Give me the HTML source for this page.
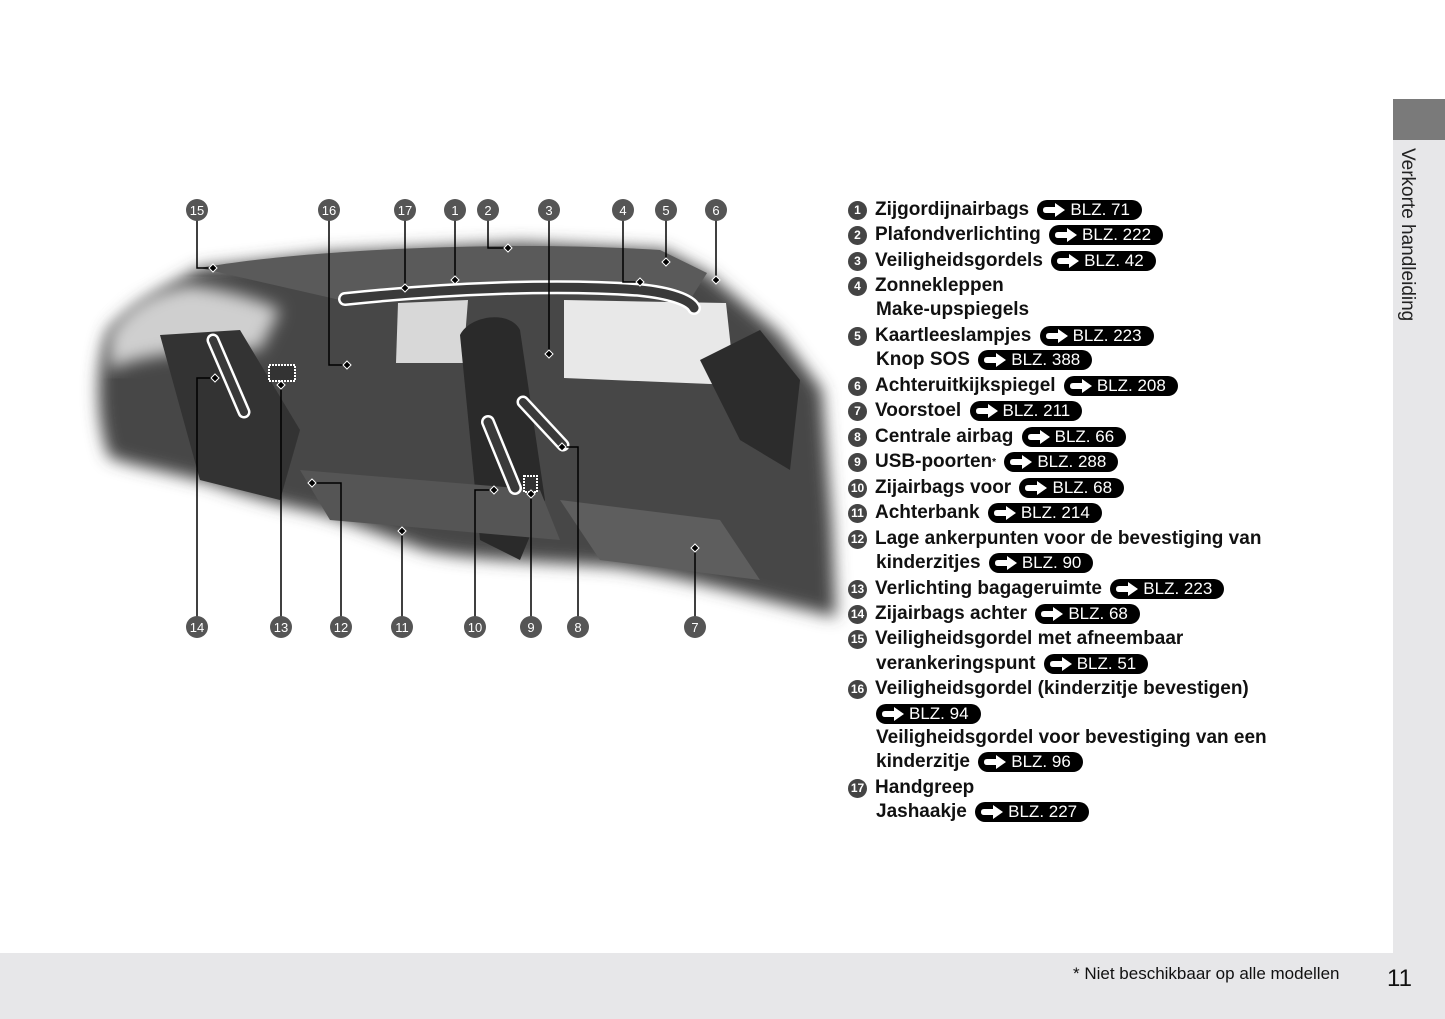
<!DOCTYPE html>
<html><head><meta charset="utf-8"><style>
body{margin:0;width:1445px;height:1019px;background:#fff;position:relative;overflow:hidden;font-family:"Liberation Sans",sans-serif;}
.side{position:absolute;left:1393px;top:140px;width:52px;height:813px;background:#e7e7e9;}
.sidetop{position:absolute;left:1393px;top:99px;width:52px;height:41px;background:#7a7a7a;}
.vt{position:absolute;left:1396px;top:148px;writing-mode:vertical-rl;font-size:19px;color:#222;}
.bot{position:absolute;left:0;top:953px;width:1445px;height:66px;background:#e7e7e9;}
.fn{position:absolute;left:1073px;top:964px;font-size:17px;color:#111;}
.pn{position:absolute;left:1387px;top:965px;font-size:24px;color:#111;}
.it{position:absolute;left:848px;font-size:19px;font-weight:bold;color:#111;white-space:nowrap;line-height:24px;height:24px;}
.n{display:inline-block;width:19px;height:19px;border-radius:50%;background:#444;color:#fff;font-size:12px;text-align:center;line-height:19px;vertical-align:1px;margin-right:8px;}
.b{display:inline-block;background:#000;color:#fff;font-weight:normal;font-size:17px;border-radius:11px;padding:0 12px 0 6px;line-height:20px;margin-left:3px;}
.b svg{vertical-align:-2px;margin-right:1px;}
.in{margin-left:28px;}
sup{font-size:10px;line-height:0;position:relative;top:-2px;vertical-align:baseline;}
</style></head><body>
<div class="sidetop"></div><div class="side"></div><div class="vt">Verkorte handleiding</div>
<div class="bot"></div><div class="fn">* Niet beschikbaar op alle modellen</div><div class="pn">11</div>

<svg width="1445" height="1019" style="position:absolute;left:0;top:0">
<defs><filter id="bl"><feGaussianBlur stdDeviation="8"/></filter>
<symbol id="ar" viewBox="0 0 26 14"><path d="M3,4H12V0L22,7L12,14V10H3Q0,10 0,7Q0,4 3,4Z" fill="#fff"/></symbol></defs>
<path d="M109,330 C140,300 170,285 200,268 L329,253 L521,243 L664,250 L707,273 L779,333 L822,390 L832,523 L836,617 C760,600 700,580 616,567 C520,560 470,560 425,550 C370,530 330,515 305,510 C260,500 230,490 210,483 C160,470 130,465 109,457 C95,420 95,360 109,330Z" fill="#474747" filter="url(#bl)"/>
<path d="M109,335 C130,300 160,290 190,285 C230,290 260,300 280,310 L260,350 C220,350 150,350 109,370Z" fill="#cfcfcf" filter="url(#bl)"/>
<path d="M200,268 C300,250 500,240 660,250 L707,273 L690,300 C560,290 450,290 340,300 Z" fill="#5a5a5a"/>
<path d="M564,300 L726,303 L735,385 L564,378Z" fill="#e8e8e8"/>
<path d="M398,303 L468,300 L463,363 L396,363Z" fill="#d8d8d8"/>
<path d="M460,335 C470,315 510,310 520,330 L545,500 L520,560 L480,540 Z" fill="#2a2a2a"/>
<path d="M160,335 L240,330 L300,430 L280,500 L200,480 Z" fill="#333"/>
<path d="M300,470 L540,490 L560,540 L330,520Z" fill="#555"/>
<path d="M560,500 L720,520 L760,580 L600,560Z" fill="#5e5e5e"/>
<path d="M700,360 L760,330 L800,380 L790,470 L740,440Z" fill="#2c2c2c"/>
<g fill="none" stroke-linecap="round">
<path d="M345,299 C450,288 560,284 640,290 C670,293 690,300 694,308" stroke="#fff" stroke-width="14"/>
<path d="M345,299 C450,288 560,284 640,290 C670,293 690,300 694,308" stroke="#3a3a3a" stroke-width="9"/>
<path d="M213,340 L244,412" stroke="#fff" stroke-width="13"/><path d="M213,340 L244,412" stroke="#3a3a3a" stroke-width="8"/>
<path d="M488,422 L515,488" stroke="#fff" stroke-width="14"/><path d="M488,422 L515,488" stroke="#3a3a3a" stroke-width="9"/>
<path d="M523,402 L563,445" stroke="#fff" stroke-width="13"/><path d="M523,402 L563,445" stroke="#3a3a3a" stroke-width="8"/>
</g>
<rect x="269" y="365" width="26" height="16" fill="#333" stroke="#fff" stroke-width="2" stroke-dasharray="2 1"/>
<rect x="524" y="476" width="13" height="16" fill="#333" stroke="#fff" stroke-width="2" stroke-dasharray="2 1"/>
<g stroke="#000" stroke-width="1.5" fill="none">
<path d="M197,210V268H213"/><path d="M329,210V365H347"/><path d="M405,210V288"/><path d="M455,210V280"/>
<path d="M488,210V248H508"/><path d="M549,210V354"/><path d="M623,210V282H640"/><path d="M666,210V262"/><path d="M716,210V280"/>
<path d="M197,627V378H215"/><path d="M281,627V385"/><path d="M341,627V483H312"/><path d="M402,627V531"/>
<path d="M475,627V490H494"/><path d="M531,627V494"/><path d="M578,627V447H562"/><path d="M695,627V548"/>
</g>
<g fill="#000" stroke="#fff" stroke-width="1">
<path d="M213,264l4,4l-4,4l-4,-4z"/><path d="M347,361l4,4l-4,4l-4,-4z"/><path d="M405,284l4,4l-4,4l-4,-4z"/><path d="M455,276l4,4l-4,4l-4,-4z"/>
<path d="M508,244l4,4l-4,4l-4,-4z"/><path d="M549,350l4,4l-4,4l-4,-4z"/><path d="M640,278l4,4l-4,4l-4,-4z"/><path d="M666,258l4,4l-4,4l-4,-4z"/><path d="M716,276l4,4l-4,4l-4,-4z"/>
<path d="M215,374l4,4l-4,4l-4,-4z"/><path d="M281,381l4,4l-4,4l-4,-4z"/><path d="M312,479l4,4l-4,4l-4,-4z"/><path d="M402,527l4,4l-4,4l-4,-4z"/>
<path d="M494,486l4,4l-4,4l-4,-4z"/><path d="M531,490l4,4l-4,4l-4,-4z"/><path d="M562,443l4,4l-4,4l-4,-4z"/><path d="M695,544l4,4l-4,4l-4,-4z"/>
</g>
<g font-family="Liberation Sans" font-size="13" fill="#fff" text-anchor="middle">
<g fill="#555"><circle cx="197" cy="210" r="11"/><circle cx="329" cy="210" r="11"/><circle cx="405" cy="210" r="11"/><circle cx="455" cy="210" r="11"/><circle cx="488" cy="210" r="11"/><circle cx="549" cy="210" r="11"/><circle cx="623" cy="210" r="11"/><circle cx="666" cy="210" r="11"/><circle cx="716" cy="210" r="11"/>
<circle cx="197" cy="627" r="11"/><circle cx="281" cy="627" r="11"/><circle cx="341" cy="627" r="11"/><circle cx="402" cy="627" r="11"/><circle cx="475" cy="627" r="11"/><circle cx="531" cy="627" r="11"/><circle cx="578" cy="627" r="11"/><circle cx="695" cy="627" r="11"/></g>
<text x="197" y="215">15</text><text x="329" y="215">16</text><text x="405" y="215">17</text><text x="455" y="215">1</text><text x="488" y="215">2</text><text x="549" y="215">3</text><text x="623" y="215">4</text><text x="666" y="215">5</text><text x="716" y="215">6</text>
<text x="197" y="632">14</text><text x="281" y="632">13</text><text x="341" y="632">12</text><text x="402" y="632">11</text><text x="475" y="632">10</text><text x="531" y="632">9</text><text x="578" y="632">8</text><text x="695" y="632">7</text>
</g>
</svg>

<div class="it" style="top:198px"><span class="n">1</span>Zijgordijnairbags <span class="b"><svg width="26" height="14"><use href="#ar"/></svg>BLZ. 71</span></div>
<div class="it" style="top:223px"><span class="n">2</span>Plafondverlichting <span class="b"><svg width="26" height="14"><use href="#ar"/></svg>BLZ. 222</span></div>
<div class="it" style="top:249px"><span class="n">3</span>Veiligheidsgordels <span class="b"><svg width="26" height="14"><use href="#ar"/></svg>BLZ. 42</span></div>
<div class="it" style="top:274px"><span class="n">4</span>Zonnekleppen</div>
<div class="it in" style="top:298px">Make-upspiegels</div>
<div class="it" style="top:324px"><span class="n">5</span>Kaartleeslampjes <span class="b"><svg width="26" height="14"><use href="#ar"/></svg>BLZ. 223</span></div>
<div class="it in" style="top:348px">Knop SOS <span class="b"><svg width="26" height="14"><use href="#ar"/></svg>BLZ. 388</span></div>
<div class="it" style="top:374px"><span class="n">6</span>Achteruitkijkspiegel <span class="b"><svg width="26" height="14"><use href="#ar"/></svg>BLZ. 208</span></div>
<div class="it" style="top:399px"><span class="n">7</span>Voorstoel <span class="b"><svg width="26" height="14"><use href="#ar"/></svg>BLZ. 211</span></div>
<div class="it" style="top:425px"><span class="n">8</span>Centrale airbag <span class="b"><svg width="26" height="14"><use href="#ar"/></svg>BLZ. 66</span></div>
<div class="it" style="top:450px"><span class="n">9</span>USB-poorten<sup>*</sup> <span class="b"><svg width="26" height="14"><use href="#ar"/></svg>BLZ. 288</span></div>
<div class="it" style="top:476px"><span class="n">10</span>Zijairbags voor <span class="b"><svg width="26" height="14"><use href="#ar"/></svg>BLZ. 68</span></div>
<div class="it" style="top:501px"><span class="n">11</span>Achterbank <span class="b"><svg width="26" height="14"><use href="#ar"/></svg>BLZ. 214</span></div>
<div class="it" style="top:527px"><span class="n">12</span>Lage ankerpunten voor de bevestiging van</div>
<div class="it in" style="top:551px">kinderzitjes <span class="b"><svg width="26" height="14"><use href="#ar"/></svg>BLZ. 90</span></div>
<div class="it" style="top:577px"><span class="n">13</span>Verlichting bagageruimte <span class="b"><svg width="26" height="14"><use href="#ar"/></svg>BLZ. 223</span></div>
<div class="it" style="top:602px"><span class="n">14</span>Zijairbags achter <span class="b"><svg width="26" height="14"><use href="#ar"/></svg>BLZ. 68</span></div>
<div class="it" style="top:627px"><span class="n">15</span>Veiligheidsgordel met afneembaar</div>
<div class="it in" style="top:652px">verankeringspunt <span class="b"><svg width="26" height="14"><use href="#ar"/></svg>BLZ. 51</span></div>
<div class="it" style="top:677px"><span class="n">16</span>Veiligheidsgordel (kinderzitje bevestigen)</div>
<div class="it in" style="top:702px"><span class="b" style="margin-left:0"><svg width="26" height="14"><use href="#ar"/></svg>BLZ. 94</span></div>
<div class="it in" style="top:726px">Veiligheidsgordel voor bevestiging van een</div>
<div class="it in" style="top:750px">kinderzitje <span class="b"><svg width="26" height="14"><use href="#ar"/></svg>BLZ. 96</span></div>
<div class="it" style="top:776px"><span class="n">17</span>Handgreep</div>
<div class="it in" style="top:800px">Jashaakje <span class="b"><svg width="26" height="14"><use href="#ar"/></svg>BLZ. 227</span></div>
</body></html>
